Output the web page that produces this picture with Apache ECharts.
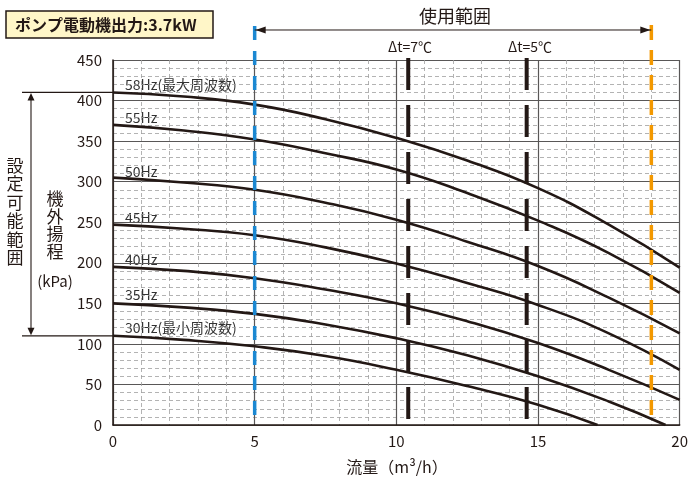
<!DOCTYPE html>
<html><head><meta charset="utf-8">
<script src="https://cdn.jsdelivr.net/npm/echarts@6/dist/echarts.min.js"></script>
<style>html,body{margin:0;padding:0;background:#fff}#c{width:691px;height:482px}</style>
</head><body><div id="c"></div>
<script>
// Pump curves (flow m3/h, head kPa)
const hz58 = [[0,410],[2.5,405],[5,395],[7.5,377],[10,354],[12.5,326],[15,292],[17.5,247],[20,194]];
const hz55 = [[0,370],[2.5,363],[5,352],[7.5,335],[10,315],[12.5,286],[15,252],[17.5,212],[20,163]];
const hz50 = [[0,305],[2.5,299],[5,290],[7.5,274],[10,253],[12.5,226],[15,196],[17.5,157],[20,113]];
const hz45 = [[0,247],[2.5,242],[5,234],[7.5,219],[10,199],[12.5,175],[15,148],[17.5,113],[20,68]];
const hz40 = [[0,195],[2.5,190],[5,181],[7.5,167],[10,150],[12.5,128],[15,101],[17.5,68],[20,31]];
const hz35 = [[0,150],[2.5,145],[5,137],[7.5,124],[10,107],[12.5,86],[15,60],[17.5,29],[19.5,0]];
const hz30 = [[0,110],[2.5,105],[5,97],[7.5,85],[10,68],[12.5,48],[15,25],[17.1,0]];
const curves = [hz58, hz55, hz50, hz45, hz40, hz35, hz30];
const curveLabels = ['58Hz(最大周波数)','55Hz','50Hz','45Hz','40Hz','35Hz','30Hz(最小周波数)'];
const usableRange = [5, 19];       // 使用範囲
const dtFlows = [10.42, 14.6];     // Δt=7℃, Δt=5℃
const dtLabels = ['Δt=7℃', 'Δt=5℃'];
const settingRange = [410, 110];   // 設定可能範囲 (kPa)
const xMax = 20, yMax = 450;

const FONT = '"Noto Sans CJK JP","Noto Sans",sans-serif';
const INK = '#231815';

const series = [];
curves.forEach((c, i) => {
  series.push({type:'line', data:c, smooth:0.5, symbol:'none',
    lineStyle:{color:INK, width:2.6}, z:3, silent:true});
});
// usable range verticals
const topY = 492, arrowY = 487;
series.push({type:'line', clip:false, symbol:'none', data:[[usableRange[0],topY],[usableRange[0],0]],
  lineStyle:{color:'#1b88d2', width:3.5, type:[14,11]}, z:5});
series.push({type:'line', clip:false, symbol:'none', data:[[usableRange[1],topY+1],[usableRange[1],0]],
  lineStyle:{color:'#f39800', width:3.5, type:[15,10]}, z:5});
// Δt lines
dtFlows.forEach(f => {
  series.push({type:'line', clip:false, symbol:'none', data:[[f,452.5],[f,0]],
    lineStyle:{color:INK, width:4, type:[32,15]}, z:5});
});
// 使用範囲 arrow
series.push({type:'line', clip:false, symbol:'triangle', showSymbol:true,
  data:[{value:[usableRange[0],arrowY], symbolRotate:90, symbolOffset:[6,0]},
        {value:[usableRange[1],arrowY], symbolRotate:-90, symbolOffset:[-6,0]}],
  symbolSize:[7,10], itemStyle:{color:INK}, lineStyle:{color:INK, width:1}, z:5});

const labelPos = [[125,85],[125,118],[125,172],[125,218],[125,260],[125,295],[125,328]];
const graphic = [
  {type:'rect', shape:{x:6,y:11,width:207,height:27}, style:{fill:'#fff6c8', stroke:INK, lineWidth:1.5}},
  {type:'text', style:{text:'ポンプ電動機出力:3.7kW', x:15, y:25, font:'bold 16px '+FONT, fill:INK, verticalAlign:'middle'}},
  {type:'text', style:{text:'使用範囲', x:455, y:16, font:'18px '+FONT, fill:INK, align:'center', verticalAlign:'middle'}},
  {type:'text', style:{text:'設\n定\n可\n能\n範\n囲', x:15, y:156, font:'17px '+FONT, lineHeight:18.5, fill:INK, align:'center'}},
  {type:'text', style:{text:'機\n外\n揚\n程', x:55, y:190, font:'17px '+FONT, lineHeight:17.5, fill:INK, align:'center'}},
  {type:'text', style:{text:'(kPa)', x:55, y:281, font:'15px '+FONT, fill:INK, align:'center', verticalAlign:'middle'}},
  {type:'text', style:{text:'流量（m³/h）', x:397, y:467, font:'16px '+FONT, fill:INK, align:'center', verticalAlign:'middle'}},
  {type:'text', style:{text:dtLabels[0], x:410, y:47, font:'14px '+FONT, fill:INK, align:'center', verticalAlign:'middle'}},
  {type:'text', style:{text:dtLabels[1], x:530, y:47, font:'14px '+FONT, fill:INK, align:'center', verticalAlign:'middle'}}
];
curveLabels.forEach((t,i) => {
  graphic.push({type:'text', style:{text:t, x:labelPos[i][0], y:labelPos[i][1], font:'14px '+FONT, fill:'#333', verticalAlign:'middle'}});
});

const chart = echarts.init(document.getElementById('c'), null, {renderer:'canvas'});
chart.setOption({
  animation:false,
  grid:{left:113, right:8, top:60, bottom:57},
  xAxis:{type:'value', min:0, max:xMax, interval:5,
    axisLine:{lineStyle:{color:INK, width:1.5}}, axisTick:{show:false},
    axisLabel:{color:INK, fontSize:15, fontFamily:FONT, margin:9},
    splitLine:{show:true, lineStyle:{color:'#595757', width:1.2}},
    minorTick:{show:false, splitNumber:5},
    minorSplitLine:{show:true, lineStyle:{color:'#a0a0a0', width:0.8, type:[4,3]}}},
  yAxis:{type:'value', min:0, max:yMax, interval:50,
    axisLine:{show:true, lineStyle:{color:INK, width:1.5}}, axisTick:{show:false},
    axisLabel:{color:INK, fontSize:15, fontFamily:FONT, margin:11},
    splitLine:{show:true, lineStyle:{color:'#595757', width:1.2}},
    minorTick:{show:false, splitNumber:5},
    minorSplitLine:{show:true, lineStyle:{color:'#a0a0a0', width:0.8, type:[4,3]}}},
  graphic:graphic,
  series:series
});

// 設定可能範囲 arrow: positioned from the chart's own scales
const pTop = chart.convertToPixel({gridIndex:0}, [0, settingRange[0]]);
const pBot = chart.convertToPixel({gridIndex:0}, [0, settingRange[1]]);
const arrX = pTop[0] - 82, leadX = pTop[0] - 91;
graphic.push(
  {type:'line', shape:{x1:leadX, y1:pTop[1], x2:pTop[0], y2:pTop[1]}, style:{stroke:INK, lineWidth:1.2}},
  {type:'line', shape:{x1:leadX, y1:pBot[1], x2:pBot[0], y2:pBot[1]}, style:{stroke:INK, lineWidth:1.2}},
  {type:'line', shape:{x1:arrX, y1:pTop[1]+6, x2:arrX, y2:pBot[1]-6}, style:{stroke:INK, lineWidth:1.1}},
  {type:'polygon', shape:{points:[[arrX,pTop[1]+0.5],[arrX-3.5,pTop[1]+8],[arrX+3.5,pTop[1]+8]]}, style:{fill:INK}},
  {type:'polygon', shape:{points:[[arrX,pBot[1]-0.5],[arrX-3.5,pBot[1]-8],[arrX+3.5,pBot[1]-8]]}, style:{fill:INK}}
);
chart.setOption({graphic:graphic});
</script></body></html>
